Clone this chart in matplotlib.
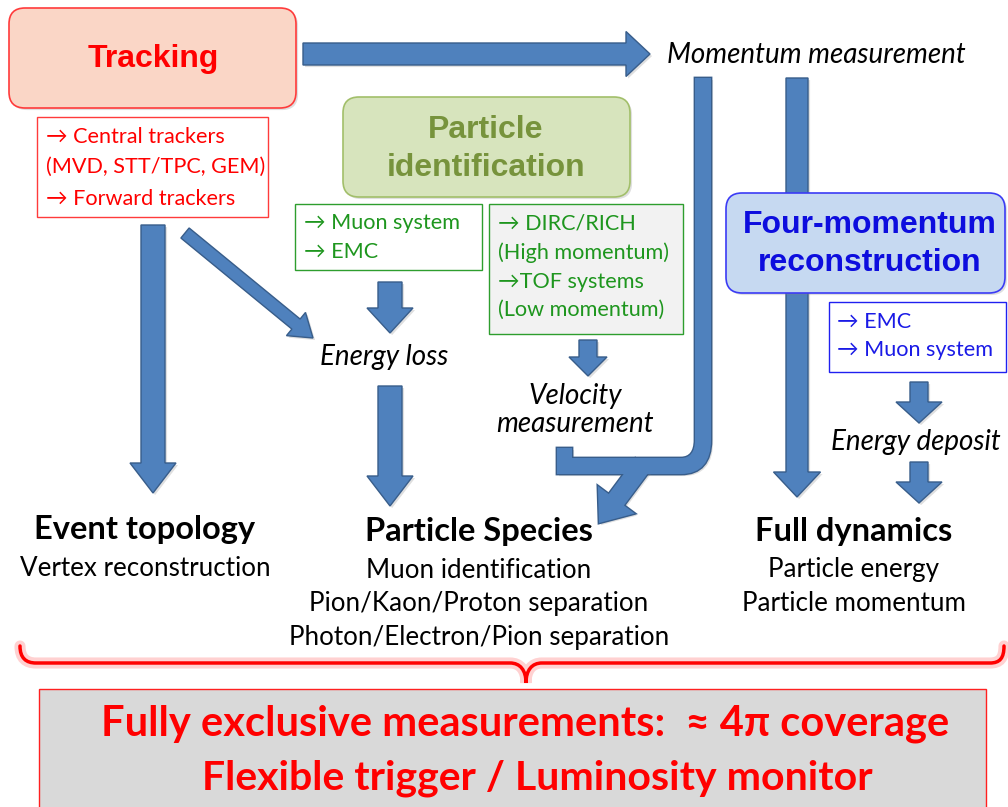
"""
Detector concept overview: tracking, PID and four-momentum paths.
"""

import matplotlib.pyplot as plt
import matplotlib.patheffects as pe
from matplotlib.patches import FancyBboxPatch, FancyArrow, Rectangle, PathPatch
from matplotlib.path import Path

BODY = ['Lato', 'DejaVu Sans']
HEAD = ['Liberation Sans', 'DejaVu Sans']

# Texts of the diagram
main_boxes = [['Tracking'], ['Particle', 'identification'], ['Four-momentum', 'reconstruction']]
tracking_items = ['→ Central trackers', '(MVD, STT/TPC, GEM)', '→ Forward trackers']
pid_left_items = ['→ Muon system', '→ EMC']
pid_right_items = ['→ DIRC/RICH', '(High momentum)', '→TOF systems', '(Low momentum)']
fourmom_items = ['→ EMC', '→ Muon system']
measurements = [['Momentum measurement'], ['Energy loss'], ['Velocity', 'measurement'],
                ['Energy deposit']]
result_titles = ['Event topology', 'Particle Species', 'Full dynamics']
result_lines = [['Vertex reconstruction'],
                ['Muon identification', 'Pion/Kaon/Proton separation',
                 'Photon/Electron/Pion separation'],
                ['Particle energy', 'Particle momentum']]
summary_lines = ['Fully exclusive measurements:  ≈ 4π coverage',
                 'Flexible trigger / Luminosity monitor']

ARROW_FILL = '#4F81BD'
ARROW_EDGE = '#385D8A'
shadow = [pe.SimplePatchShadow(offset=(1.5, -1.5), alpha=0.25, shadow_rgbFace='gray'), pe.Normal()]

fig = plt.figure(figsize=(10.08, 8.07), dpi=100)
ax = fig.add_axes([0, 0, 1, 1])
ax.set_xlim(0, 1008)
ax.set_ylim(807, 0)
ax.axis('off')


def rbox(x0, y0, x1, y1, fc, ec, lw=1.2, rounding=16, z=3):
    p = FancyBboxPatch((x0, y0), x1 - x0, y1 - y0,
                       boxstyle=f'round,pad=0,rounding_size={rounding}',
                       fc=fc, ec=ec, lw=lw, zorder=z, path_effects=shadow)
    ax.add_patch(p)


def sbox(x0, y0, x1, y1, fc, ec, z=3):
    ax.add_patch(Rectangle((x0, y0), x1 - x0, y1 - y0, fc=fc, ec=ec, lw=1.0, zorder=z))


def arrow(x0, y0, x1, y1, width, head_w, head_l, z=2):
    a = FancyArrow(x0, y0, x1 - x0, y1 - y0, width=width, head_width=head_w,
                   head_length=head_l, length_includes_head=True,
                   fc=ARROW_FILL, ec=ARROW_EDGE, lw=1.0, zorder=z, path_effects=shadow)
    ax.add_patch(a)
    return a


def items(lst, x, ys, color, size=15.6):
    for s, y in zip(lst, ys):
        ax.text(x, y, s, ha='left', va='center', fontsize=size, color=color,
                family=BODY, zorder=5)


def heading(lines, xc, ys, color):
    for s, y in zip(lines, ys):
        ax.text(xc, y, s, ha='center', va='center', fontsize=23, weight='bold',
                color=color, family=HEAD, zorder=5)


def italic(lines, xc, ys):
    for s, y in zip(lines, ys):
        ax.text(xc, y, s, ha='center', va='center', fontsize=20, style='italic',
                family=BODY, zorder=5)


# ---- straight arrows ----
arrow(303, 54, 650, 54, 22, 45, 24)          # tracking -> momentum
arrow(153, 225, 153, 493, 24, 46, 30)        # tracking -> event topology
arrow(185, 233, 313, 338, 13, 30, 22)        # tracking -> energy loss
arrow(390, 282, 390, 333, 24, 46, 25)        # muon/EMC -> energy loss
arrow(390, 386, 390, 506, 24, 46, 30)        # energy loss -> species
arrow(588, 340, 588, 376, 18, 38, 19)        # DIRC -> velocity
arrow(797, 78, 797, 497, 22, 47, 25, z=1)    # momentum -> full dynamics
arrow(919, 382, 919, 423, 18, 46, 21)        # EMC -> energy deposit
arrow(919, 462, 919, 503, 18, 46, 21)        # energy deposit -> full dynamics

# ---- curved arrow: momentum -> particle species ----
verts = [(695, 78), (711, 78), (711, 440),
         (711, 462), (701, 474), (681, 474),
         (557, 474), (557, 448), (572, 448), (572, 458), (681, 458),
         (690, 458), (695, 452), (695, 440), (695, 78)]
codes = [Path.MOVETO, Path.LINETO, Path.LINETO,
         Path.CURVE4, Path.CURVE4, Path.CURVE4,
         Path.LINETO, Path.LINETO, Path.LINETO, Path.LINETO, Path.LINETO,
         Path.CURVE4, Path.CURVE4, Path.CURVE4, Path.CLOSEPOLY]
band = Path(verts, codes)
head_kw = dict(width=19, head_width=46, head_length=29, length_includes_head=True)
ax.add_patch(PathPatch(band, fc=ARROW_FILL, ec=ARROW_EDGE, lw=2, zorder=2, path_effects=shadow))
ax.add_patch(FancyArrow(643, 464, -44, 59, fc=ARROW_FILL, ec=ARROW_EDGE, lw=2, zorder=2,
                        path_effects=shadow, **head_kw))
ax.add_patch(PathPatch(band, fc=ARROW_FILL, ec='none', zorder=2.1))
ax.add_patch(FancyArrow(643, 464, -44, 59, fc=ARROW_FILL, ec='none', zorder=2.1, **head_kw))

# ---- main boxes ----
rbox(9, 8, 296, 108, '#FAD6C6', '#FF3B3B')
heading(main_boxes[0], 153, [59], '#FF0000')

rbox(343, 97, 630, 197, '#D7E4BD', '#A2BF6A')
heading(main_boxes[1], 486, [130, 168], '#77933C')

rbox(726, 193, 1005, 293, '#C6D9F1', '#3B3BF5')
heading(main_boxes[2], 870, [225, 263], '#0D0DDE')

# ---- detector boxes ----
sbox(37, 117, 268, 217, 'white', '#FF3B3B')
items(tracking_items, 46, [137, 167, 199], '#FF0000')

sbox(295, 204, 482, 270, 'white', '#2E9E2E')
items(pid_left_items, 304, [223, 252], '#1E961E')

sbox(489, 204, 683, 334, '#F2F2F2', '#2E9E2E')
items(pid_right_items, 498, [223, 253, 282, 310], '#1E961E')

sbox(829, 302, 1006, 372, 'white', '#2020F0')
items(fourmom_items, 837, [322, 350], '#1A1AE6')

# ---- measurement labels ----
italic(measurements[0], 816, [55])
italic(measurements[1], 384, [357])
italic(measurements[2], 575, [396, 424])
italic(measurements[3], 916, [442])

# ---- results ----
for title, lines, xc, yt in zip(result_titles, result_lines, [145, 479, 854], [530, 532, 532]):
    ax.text(xc, yt, title, ha='center', va='center', fontsize=23.5, weight='bold', family=BODY)
    for k, s in enumerate(lines):
        ax.text(xc, yt + 38 + 33.5 * k, s, ha='center', va='center', fontsize=18.7, family=BODY)

# ---- brace ----
bverts = [(20, 646), (20, 658), (26, 663), (36, 663), (510, 663),
          (520, 663), (526, 670), (526, 683),
          (526, 670), (532, 663), (542, 663), (990, 663),
          (1000, 663), (1004, 658), (1004, 646)]
bcodes = [Path.MOVETO, Path.CURVE4, Path.CURVE4, Path.CURVE4, Path.LINETO,
          Path.CURVE4, Path.CURVE4, Path.CURVE4,
          Path.CURVE4, Path.CURVE4, Path.CURVE4, Path.LINETO,
          Path.CURVE4, Path.CURVE4, Path.CURVE4]
brace = Path(bverts, bcodes)
ax.add_patch(PathPatch(brace, fc='none', ec='#FFB3B3', lw=8, alpha=0.6, capstyle='round', zorder=3))
ax.add_patch(PathPatch(brace, fc='none', ec='#FF0000', lw=2.5, capstyle='round', zorder=4))

# ---- summary box ----
sbox(39, 689, 986, 815, '#D9D9D9', '#FF2020')
ax.text(525, 724, summary_lines[0], ha='center', va='center', fontsize=30, weight='bold',
        color='#FF0000', family=BODY, zorder=5)
ax.text(537, 778, summary_lines[1], ha='center', va='center', fontsize=29.5, weight='bold',
        color='#FF0000', family=BODY, zorder=5)

fig.savefig('out.png', dpi=100)
